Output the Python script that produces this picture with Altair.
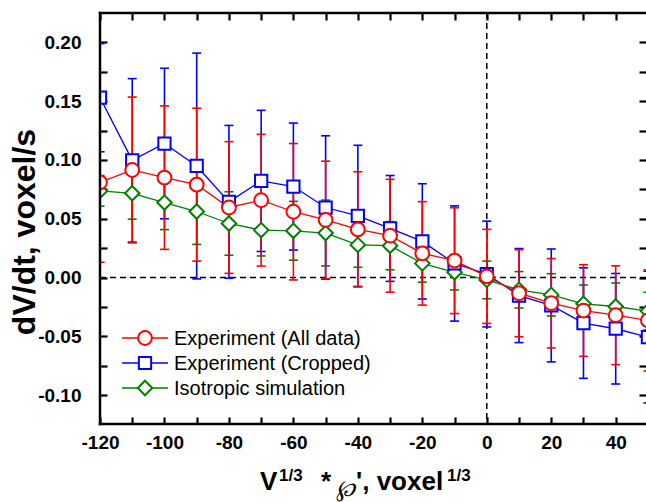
import altair as alt
import pandas as pd

# ---------------- data ----------------
x_vals = [-120, -110, -100, -90, -80, -70, -60, -50, -40, -30, -20, -10, 0, 10, 20, 30, 40, 50]

all_mean = [0.081, 0.0915, 0.085, 0.079, 0.0596, 0.0658, 0.056, 0.049, 0.041, 0.0356,
            0.0206, 0.0144, 0.001, -0.0133, -0.0218, -0.028, -0.032, -0.0364]
all_err = [0.068, 0.062, 0.061, 0.065, 0.056, 0.056, 0.058, 0.050, 0.049, 0.048,
           0.044, 0.045, 0.040, 0.037, 0.038, 0.039, 0.042, 0.043]

crop_mean = [0.153, 0.0997, 0.114, 0.0949, 0.0644, 0.0822, 0.0774, 0.0596, 0.0525, 0.0418,
             0.0308, 0.012, 0.003, -0.0153, -0.0237, -0.0387, -0.0435, -0.0506]
crop_err = [0.046, 0.0695, 0.064, 0.096, 0.065, 0.060, 0.054, 0.061, 0.060, 0.045,
            0.049, 0.049, 0.045, 0.040, 0.048, 0.047, 0.047, 0.056]

sim_mean = [0.0737, 0.0717, 0.0638, 0.0562, 0.046, 0.0404, 0.0398, 0.0379, 0.0278, 0.0271,
            0.0121, 0.0045, -0.002, -0.0104, -0.0147, -0.0223, -0.0246, -0.0285]
sim_err = [0.013, 0.022, 0.023, 0.028, 0.027, 0.022, 0.025, 0.028, 0.019, 0.0205,
           0.016, 0.015, 0.016, 0.0155, 0.018, 0.016, 0.020, 0.016]

series_names = ["Experiment (All data)", "Experiment (Cropped)", "Isotropic simulation"]
series_colors = ["#ff0000", "#0000ff", "#007f00"]
series_shapes = ["circle", "square", "diamond"]
series_sizes = [190, 150, 210]

x_ticks = [-120, -110, -100, -90, -80, -70, -60, -50, -40, -30, -20, -10, 0, 10, 20, 30, 40]
y_ticks = [-0.1, -0.075, -0.05, -0.025, 0.0, 0.025, 0.05, 0.075, 0.1, 0.125, 0.15, 0.175, 0.2]

# ---------------- layout ----------------
W, H = 546, 411
FONT = "Arial, Liberation Sans, Helvetica, sans-serif"
MINUS = "\u2212"

xscale = alt.Scale(domain=[-120, 49.4], nice=False, zero=False)
yscale = alt.Scale(domain=[-0.1245, 0.225], nice=False, zero=False)

tick_common = dict(tickSize=7, tickWidth=2.2, tickColor="black", domain=False, offset=-7,
                   grid=False, title=None, labelFlush=False, labelOverlap=False, labelBound=False)

x_axis = alt.Axis(orient="bottom", values=x_ticks,
                  labelExpr=f"datum.value % 20 == 0 ? replace(format(datum.value, 'd'), '{MINUS}', '-') : ''",
                  labelFont=FONT, labelFontSize=19, labelFontWeight="bold", labelColor="black",
                  labelPadding=9, **tick_common)
y_axis = alt.Axis(orient="left", values=y_ticks,
                  labelExpr=f"abs(round(datum.value * 40)) % 2 == 0 ? replace(format(datum.value, '.2f'), '{MINUS}', '-') : ''",
                  labelFont=FONT, labelFontSize=19, labelFontWeight="bold", labelColor="black",
                  labelPadding=19, **tick_common)
x_axis_top = alt.Axis(orient="top", values=x_ticks, labels=False, **tick_common)
y_axis_right = alt.Axis(orient="right", values=y_ticks, labels=False, **tick_common)

rows = []
for name, means, errs in zip(series_names, [all_mean, crop_mean, sim_mean], [all_err, crop_err, sim_err]):
    for xv, m, e in zip(x_vals, means, errs):
        rows.append({"series": name, "x": xv, "mean": m, "lo": m - e, "hi": m + e})
df = pd.DataFrame(rows)

X = alt.X("x:Q", scale=xscale, axis=x_axis)


def Yf(field):
    return alt.Y(f"{field}:Q", scale=yscale, axis=y_axis)


bar_layers, line_layers, point_layers = [], [], []
order = [2, 1, 0]  # green, blue, red (red on top)
for i in order:
    name, col = series_names[i], series_colors[i]
    d = df[df["series"] == name]
    base = alt.Chart(d)
    bar_layers.append(base.mark_rule(color=col, strokeWidth=1.6, clip=True).encode(x=X, y=Yf("lo"), y2="hi:Q"))
    bar_layers.append(base.mark_rule(color=col, strokeWidth=1.6, clip=True, xOffset=-4.5, x2Offset=4.5)
                      .encode(x=X, x2="x:Q", y=Yf("lo")))
    bar_layers.append(base.mark_rule(color=col, strokeWidth=1.6, clip=True, xOffset=-4.5, x2Offset=4.5)
                      .encode(x=X, x2="x:Q", y=Yf("hi")))
    line_layers.append(base.mark_line(color=col, strokeWidth=1.3, clip=True).encode(x=X, y=Yf("mean")))
    point_layers.append(base.mark_point(shape=series_shapes[i], size=series_sizes[i], fill="white",
                                        fillOpacity=1, stroke=col, strokeWidth=2, opacity=1, clip=True)
                        .encode(x=X, y=Yf("mean")))

ref = pd.DataFrame({"x": [0], "mean": [0]})
zero_h = alt.Chart(ref).mark_rule(color="black", strokeWidth=1.5, strokeDash=[6, 4]).encode(y=Yf("mean"))
zero_v = alt.Chart(ref).mark_rule(color="black", strokeWidth=1.5, strokeDash=[6, 4]).encode(x=X)

data_layer = alt.layer(zero_h, zero_v, *bar_layers, *line_layers, *point_layers)

axis_layer = alt.Chart(ref).mark_point(opacity=0).encode(
    x=alt.X("x:Q", scale=xscale, axis=x_axis_top),
    y=alt.Y("mean:Q", scale=yscale, axis=y_axis_right),
)

one = pd.DataFrame({"k": [0]})

# legend
legend_layers = []
for i in range(3):
    yy = 325 + 25 * i
    col = series_colors[i]
    c = alt.Chart(one)
    legend_layers.append(c.mark_rule(color=col, strokeWidth=1.3).encode(
        x=alt.value(22), x2=alt.value(68), y=alt.value(yy)))
    legend_layers.append(c.mark_point(shape=series_shapes[i], size=series_sizes[i], fill="white",
                                      fillOpacity=1, stroke=col, strokeWidth=2, opacity=1).encode(
        x=alt.value(45), y=alt.value(yy)))
    legend_layers.append(c.mark_text(text=series_names[i], font=FONT, fontSize=20, color="black",
                                     align="left", baseline="middle").encode(
        x=alt.value(74), y=alt.value(yy + 1)))

# y title
y_title = alt.Chart(one).mark_text(text="dV/dt, voxel/s", font=FONT, fontSize=32, fontWeight="bold",
                                   color="black", angle=270, align="center", baseline="alphabetic").encode(
    x=alt.value(-65), y=alt.value(219))

# x title (composite with superscripts)
xt = []
def tpart(txt, px, py, size, weight="bold", font=FONT, style="normal"):
    return alt.Chart(one).mark_text(text=txt, font=font, fontSize=size, fontWeight=weight, fontStyle=style,
                                    color="black", align="left", baseline="alphabetic").encode(
        x=alt.value(px), y=alt.value(py))

xt.append(tpart("V", 160, 477, 26))
xt.append(tpart("1/3", 179, 468, 17))
xt.append(tpart("*", 221, 477, 26))
xt.append(tpart("\u2118", 236, 483, 23, weight="normal", font="DejaVu Serif", style="italic"))
xt.append(tpart("', voxel", 256, 477, 26))
xt.append(tpart("1/3", 347, 468, 17))

# frame (top, bottom, left)
frame = [
    alt.Chart(one).mark_rule(color="black", strokeWidth=2.5).encode(
        x=alt.value(-1.25), x2=alt.value(W), y=alt.value(0)),
    alt.Chart(one).mark_rule(color="black", strokeWidth=2.5).encode(
        x=alt.value(-1.25), x2=alt.value(W), y=alt.value(H)),
    alt.Chart(one).mark_rule(color="black", strokeWidth=2.5).encode(
        x=alt.value(0), y=alt.value(-1.25), y2=alt.value(H + 1.25)),
]

chart = alt.layer(data_layer, axis_layer, *legend_layers, y_title, *xt, *frame).resolve_axis(
    x="independent", y="independent"
).properties(
    width=W, height=H,
    autosize=alt.AutoSizeParams(type="none"),
    padding={"left": 100, "top": 13, "right": 0, "bottom": 78},
    background="white",
).configure_view(stroke=None)

chart.save("out.html", embed_options={"renderer": "svg", "actions": False})
